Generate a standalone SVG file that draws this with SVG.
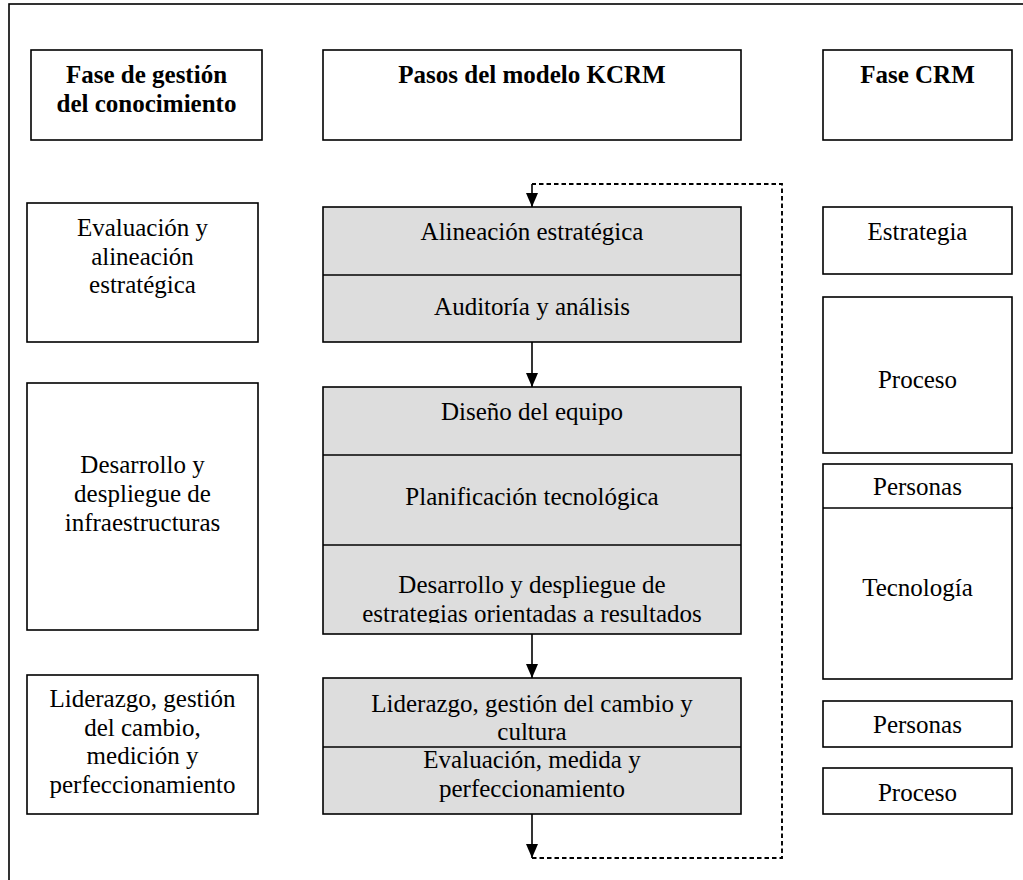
<svg xmlns="http://www.w3.org/2000/svg" width="1023" height="880" viewBox="0 0 1023 880">
<style>
.box{fill:#ffffff;stroke:#000;stroke-width:1.6}
.gray{fill:#dddddd;stroke:#000;stroke-width:1.6}
.div{stroke:#000;stroke-width:1.6;fill:none}
text{font-family:"Liberation Serif","Times New Roman",serif;font-size:25px;fill:#000;text-anchor:middle}
.b{font-weight:bold}
.conn{stroke:#000;stroke-width:1.6;fill:none}
.dash{stroke:#000;stroke-width:1.9;fill:none;stroke-dasharray:4.5 3}
</style>
<defs>
<marker id="arr" markerUnits="userSpaceOnUse" markerWidth="14" markerHeight="14" viewBox="0 0 14 14" refX="14" refY="7" orient="auto">
<path d="M0,1 L14,7 L0,13 z" fill="#000"/>
</marker>
<clipPath id="clipDes"><rect x="323" y="545" width="418" height="78"/></clipPath>
</defs>
<rect x="0" y="0" width="1023" height="880" fill="#fff"/>
<rect id="frame" x="9" y="4" width="1100" height="1000" fill="none" stroke="#000" stroke-width="1.6"/>

<g id="h-left"><rect class="box" x="31" y="50" width="231" height="90"/><text class="b" x="146.5" y="83">Fase de gestión</text><text class="b" x="146.5" y="112">del conocimiento</text></g>
<g id="h-mid"><rect class="box" x="323" y="50" width="418" height="90"/><text class="b" x="532" y="83">Pasos del modelo KCRM</text></g>
<g id="h-right"><rect class="box" x="823" y="50" width="189" height="90"/><text class="b" x="917.5" y="83">Fase CRM</text></g>

<g id="l-eval"><rect class="box" x="27" y="203" width="231" height="139"/><text x="142.5" y="236">Evaluación y</text><text x="142.5" y="264.5">alineación</text><text x="142.5" y="293">estratégica</text></g>
<g id="l-des"><rect class="box" x="27" y="383" width="231" height="247"/><text x="142.5" y="473">Desarrollo y</text><text x="142.5" y="502">despliegue de</text><text x="142.5" y="531">infraestructuras</text></g>
<g id="l-lid"><rect class="box" x="27" y="675" width="231" height="139"/><text x="142.5" y="707">Liderazgo, gestión</text><text x="142.5" y="735.5">del cambio,</text><text x="142.5" y="764">medición y</text><text x="142.5" y="792.5">perfeccionamiento</text></g>

<g id="m-block1"><rect class="gray" x="323" y="207" width="418" height="135"/><line class="div" x1="323" y1="275" x2="741" y2="275"/><text x="532" y="240">Alineación estratégica</text><text x="532" y="315">Auditoría y análisis</text></g>
<g id="m-block2"><rect class="gray" x="323" y="387" width="418" height="247"/><line class="div" x1="323" y1="455" x2="741" y2="455"/><line class="div" x1="323" y1="545" x2="741" y2="545"/><text x="532" y="420">Diseño del equipo</text><text x="532" y="505">Planificación tecnológica</text><text x="532" y="593">Desarrollo y despliegue de</text><text x="532" y="622" clip-path="url(#clipDes)">estrategias orientadas a resultados</text></g>
<g id="m-block3"><rect class="gray" x="323" y="678" width="418" height="136"/><line class="div" x1="323" y1="747" x2="741" y2="747"/><text x="532" y="712">Liderazgo, gestión del cambio y</text><text x="532" y="740">cultura</text><text x="532" y="768">Evaluación, medida y</text><text x="532" y="797">perfeccionamiento</text></g>

<g id="r-estr"><rect class="box" x="823" y="207" width="189" height="67"/><text x="917.5" y="240">Estrategia</text></g>
<g id="r-proc1"><rect class="box" x="823" y="297" width="189" height="156"/><text x="917.5" y="388">Proceso</text></g>
<g id="r-tec"><rect class="box" x="823" y="464" width="189" height="215"/><line class="div" x1="823" y1="508" x2="1013" y2="508"/><text x="917.5" y="495">Personas</text><text x="917.5" y="596">Tecnología</text></g>
<g id="r-pers2"><rect class="box" x="823" y="701" width="189" height="46"/><text x="917.5" y="733">Personas</text></g>
<g id="r-proc2"><rect class="box" x="823" y="768" width="189" height="46"/><text x="917.5" y="801">Proceso</text></g>

<g id="connectors">
<line class="conn" x1="532" y1="342" x2="532" y2="387" marker-end="url(#arr)"/>
<line class="conn" x1="532" y1="634" x2="532" y2="678" marker-end="url(#arr)"/>
<line class="conn" x1="532" y1="814" x2="532" y2="858" marker-end="url(#arr)"/>
<path class="dash" d="M532,858 H782 V184 H532"/>
<line class="conn" x1="532" y1="184" x2="532" y2="207" marker-end="url(#arr)"/>
</g>
</svg>
